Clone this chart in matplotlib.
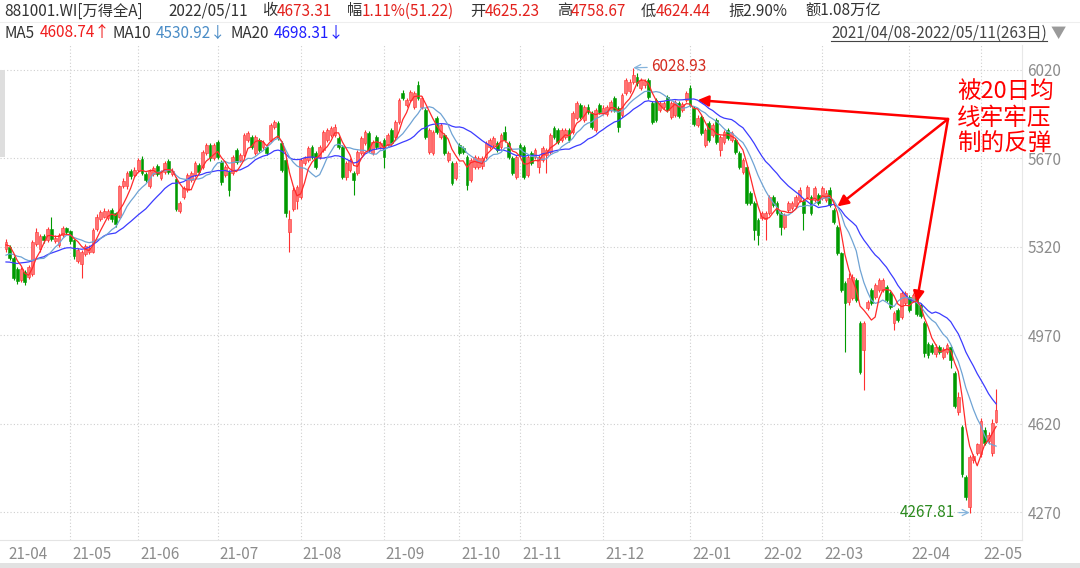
#!/usr/bin/env python3
"""Wind All A (881001.WI) daily candles with MA5/MA10/MA20, 2021/04/08-2022/05/11."""

import matplotlib

matplotlib.use("Agg")
import matplotlib.pyplot as plt
import numpy as np
import pandas as pd
from matplotlib.lines import Line2D
from matplotlib.patches import Rectangle
from matplotlib.transforms import IdentityTransform, ScaledTranslation

plt.rcParams["font.family"] = ["Noto Sans CJK SC", "DejaVu Sans"]

# ---- data --------------------------------------------------------------
code_name = "881001.WI[万得全A]"
first_date = "2021/04/08"
last_date = "2022/05/11"
turnover = "1.08万亿"

month_labels = ["21-04", "21-05", "21-06", "21-07", "21-08", "21-09", "21-10",
                "21-11", "21-12", "22-01", "22-02", "22-03", "22-04", "22-05"]
month_starts = [0, 17, 35, 56, 78, 100, 120, 136, 158, 181, 200, 216, 239, 258]

# closes before the first candle, only used to warm up the moving averages
pre_closes = [5290, 5260, 5230, 5180, 5150, 5200, 5240, 5250, 5260, 5270,
              5220, 5230, 5250, 5260, 5272, 5300, 5330, 5340, 5330]

opens = [
    # 21-04
    5310, 5318, 5276, 5232, 5190, 5222, 5200, 5212, 5330, 5312, 5362, 5346, 5392, 5344, 5326, 5366, 5394,
    # 21-05
    5382, 5346, 5264, 5250, 5290, 5300, 5300, 5390, 5432, 5440, 5436, 5466, 5452, 5440, 5562, 5560, 5620, 5604,
    # 21-06
    5626, 5666, 5610, 5560, 5610, 5640, 5592, 5616, 5660, 5610, 5590, 5462, 5517, 5545, 5584, 5604, 5644,
    5636, 5691, 5723, 5670,
    # 21-07
    5735, 5656, 5604, 5616, 5612, 5703, 5664, 5683, 5743, 5755, 5691, 5743, 5715, 5715, 5743, 5794, 5810,
    5731, 5664, 5380, 5470, 5500,
    # 21-08
    5517, 5652, 5664, 5715, 5691, 5675, 5703, 5743, 5763, 5763, 5751, 5715, 5596, 5624, 5612, 5612, 5691,
    5731, 5771, 5691, 5755, 5715,
    # 21-09
    5743, 5723, 5782, 5755, 5814, 5929, 5881, 5901, 5874, 5961, 5874, 5862, 5695, 5691, 5830, 5755, 5763,
    5664, 5652, 5592,
    # 21-10
    5723, 5711, 5675, 5584, 5636, 5636, 5640, 5675, 5715, 5723, 5731, 5715, 5775, 5731, 5671, 5596,
    # 21-11
    5723, 5715, 5604, 5691, 5675, 5636, 5664, 5683, 5695, 5790, 5782, 5743, 5755, 5782, 5775, 5830, 5881,
    5822, 5874, 5850, 5782, 5881,
    # 21-12
    5850, 5846, 5862, 5909, 5870, 5842, 5929, 5937, 5973, 5992, 5950, 5960, 5980, 5889, 5901, 5862, 5874,
    5913, 5834, 5842, 5889, 5862, 5901,
    # 22-01
    5949, 5870, 5802, 5834, 5723, 5810, 5763, 5822, 5703, 5735, 5782, 5743, 5743, 5691, 5616, 5636, 5533,
    5493, 5426,
    # 22-02
    5434, 5430, 5454, 5517, 5493, 5454, 5398, 5466, 5473, 5481, 5505, 5500, 5517, 5517, 5505, 5525,
    # 22-03
    5513, 5505, 5545, 5466, 5398, 5295, 5177, 5100, 5118, 5188, 5018, 4911, 5078, 5149, 5121, 5149, 5149,
    5161, 5137, 5018, 5070, 5042, 5098,
    # 22-04
    5121, 5109, 5121, 5090, 5018, 4935, 4930, 4895, 4925, 4884, 4905, 4925, 4820, 4665, 4607, 4408, 4290,
    4476, 4505,
    # 22-05
    4500, 4595, 4550, 4505, 4625.23,
]

closes = [
    5338, 5276, 5198, 5184, 5232, 5182, 5242, 5340, 5380, 5362, 5346, 5390, 5350, 5356, 5366, 5394, 5380,
    5342, 5282, 5306, 5300, 5322, 5316, 5386, 5440, 5456, 5462, 5460, 5430, 5410, 5560, 5580, 5612, 5600, 5626,
    5662, 5614, 5586, 5620, 5632, 5610, 5616, 5652, 5616, 5622, 5468, 5492, 5553, 5604, 5612, 5652, 5616,
    5695, 5723, 5670, 5723,
    5675, 5576, 5636, 5545, 5675, 5656, 5683, 5763, 5770, 5715, 5755, 5703, 5735, 5691, 5802, 5814, 5751,
    5624, 5454, 5430, 5545, 5557,
    5664, 5671, 5711, 5675, 5636, 5715, 5775, 5782, 5790, 5794, 5715, 5596, 5652, 5664, 5584, 5695, 5751,
    5775, 5703, 5735, 5715, 5731,
    5675, 5763, 5731, 5814, 5901, 5910, 5901, 5933, 5929, 5910, 5910, 5755, 5782, 5775, 5775, 5802, 5691,
    5691, 5573, 5652,
    5691, 5695, 5565, 5664, 5675, 5671, 5671, 5731, 5743, 5751, 5703, 5763, 5743, 5675, 5612, 5675,
    5683, 5596, 5675, 5652, 5703, 5675, 5711, 5703, 5763, 5755, 5735, 5782, 5782, 5743, 5850, 5889, 5834,
    5874, 5854, 5794, 5862, 5854,
    5870, 5874, 5893, 5862, 5794, 5921, 5980, 5973, 6000, 5968, 5980, 5975, 5913, 5814, 5822, 5889, 5889,
    5862, 5889, 5893, 5838, 5885, 5929,
    5881, 5805, 5830, 5771, 5782, 5743, 5802, 5735, 5755, 5775, 5751, 5771, 5695, 5636, 5664, 5493, 5493,
    5386, 5367,
    5454, 5454, 5517, 5485, 5454, 5398, 5446, 5493, 5493, 5517, 5545, 5454, 5557, 5454, 5553, 5493,
    5553, 5533, 5485, 5418, 5295, 5150, 5098, 5195, 5200, 5109, 4824, 5018, 5101, 5098, 5169, 5188, 5190,
    5109, 5082, 5058, 5030, 5137, 5137,
    5070, 5129, 5054, 5046, 4900, 4890, 4905, 4925, 4905, 4915, 4930, 4870, 4690, 4727, 4420, 4330, 4488,
    4490, 4537.5,
    4630, 4545, 4573.3, 4622.09, 4673.31,
]

highs = [
    5352, 5326, 5282, 5240, 5242, 5230, 5248, 5348, 5396, 5370, 5372, 5398, 5440, 5366, 5376, 5404, 5400,
    5388, 5352, 5314, 5306, 5330, 5326, 5394, 5450, 5466, 5474, 5470, 5474, 5458, 5566, 5592, 5620, 5628, 5634,
    5672, 5678, 5618, 5628, 5640, 5648, 5624, 5660, 5666, 5632, 5596, 5500, 5562, 5612, 5622, 5660, 5652,
    5702, 5732, 5730, 5730,
    5742, 5662, 5644, 5624, 5684, 5712, 5692, 5772, 5780, 5762, 5764, 5750, 5744, 5722, 5812, 5824, 5818,
    5738, 5670, 5466, 5556, 5566,
    5672, 5680, 5720, 5722, 5698, 5722, 5784, 5792, 5800, 5806, 5758, 5722, 5660, 5672, 5620, 5702, 5760,
    5784, 5780, 5744, 5762, 5740,
    5750, 5772, 5790, 5822, 5910, 5940, 5910, 5942, 5936, 5975, 5918, 5870, 5790, 5782, 5838, 5810, 5770,
    5700, 5660, 5660,
    5730, 5720, 5682, 5672, 5684, 5680, 5680, 5740, 5752, 5760, 5740, 5772, 5800, 5740, 5680, 5682,
    5732, 5722, 5684, 5700, 5710, 5684, 5720, 5712, 5772, 5798, 5790, 5790, 5790, 5790, 5858, 5898, 5890,
    5882, 5884, 5858, 5870, 5890,
    5880, 5882, 5902, 5918, 5878, 5930, 5990, 5984, 6028.93, 6010, 5990, 5986, 5990, 5896, 5908, 5898, 5898,
    5920, 5896, 5900, 5896, 5894, 5938,
    5960, 5878, 5840, 5842, 5790, 5818, 5810, 5830, 5762, 5784, 5790, 5780, 5750, 5698, 5672, 5644, 5540,
    5500, 5434,
    5462, 5462, 5526, 5524, 5500, 5460, 5454, 5500, 5500, 5526, 5556, 5508, 5566, 5524, 5562, 5532,
    5562, 5545, 5556, 5474, 5406, 5300, 5185, 5218, 5212, 5196, 5026, 5026, 5110, 5156, 5178, 5196, 5198,
    5168, 5144, 5066, 5078, 5146, 5146,
    5130, 5138, 5128, 5098, 5026, 4945, 4940, 4935, 4932, 4925, 4940, 4932, 4828, 4745, 4615, 4416, 4496,
    4500, 4545,
    4642, 4605, 4585, 4640, 4758.67,
]

lows = [
    5300, 5266, 5188, 5172, 5180, 5168, 5192, 5206, 5322, 5300, 5336, 5340, 5344, 5334, 5318, 5360, 5370,
    5332, 5272, 5256, 5198, 5282, 5292, 5294, 5384, 5424, 5434, 5428, 5420, 5400, 5434, 5552, 5550, 5590, 5596,
    5618, 5606, 5576, 5552, 5602, 5600, 5584, 5608, 5608, 5600, 5460, 5452, 5508, 5538, 5576, 5596, 5608,
    5628, 5684, 5660, 5662,
    5666, 5566, 5596, 5520, 5604, 5648, 5656, 5676, 5736, 5706, 5684, 5694, 5706, 5684, 5736, 5786, 5744,
    5616, 5440, 5300, 5462, 5470,
    5510, 5644, 5656, 5668, 5628, 5668, 5696, 5736, 5756, 5756, 5706, 5588, 5586, 5616, 5525, 5604, 5684,
    5724, 5696, 5684, 5708, 5708,
    5632, 5716, 5724, 5748, 5806, 5900, 5874, 5894, 5866, 5902, 5866, 5746, 5688, 5684, 5768, 5748, 5684,
    5656, 5564, 5584,
    5684, 5688, 5545, 5576, 5628, 5628, 5630, 5668, 5708, 5716, 5696, 5708, 5736, 5668, 5604, 5588,
    5676, 5588, 5596, 5644, 5668, 5612, 5656, 5612, 5688, 5748, 5728, 5736, 5748, 5736, 5768, 5822, 5826,
    5814, 5846, 5786, 5775, 5846,
    5842, 5838, 5854, 5854, 5775, 5834, 5920, 5930, 5965, 5958, 5942, 5950, 5905, 5806, 5814, 5854, 5866,
    5854, 5826, 5834, 5830, 5854, 5894,
    5874, 5798, 5794, 5764, 5716, 5736, 5756, 5728, 5680, 5728, 5744, 5736, 5688, 5628, 5608, 5486, 5486,
    5347, 5327,
    5426, 5347, 5446, 5478, 5446, 5367, 5390, 5458, 5466, 5474, 5498, 5386, 5510, 5446, 5498, 5486,
    5506, 5498, 5478, 5410, 5288, 5140, 4903, 5090, 5108, 5100, 4816, 4753, 5070, 5090, 5114, 5142, 5140,
    5102, 5074, 4990, 5022, 5034, 5090,
    5062, 5100, 5046, 5038, 4884, 4880, 4895, 4885, 4896, 4876, 4895, 4840, 4680, 4655, 4408, 4317, 4267.81,
    4466, 4496,
    4488, 4535, 4540, 4490, 4624.44,
]

y_ticks = [4270, 4620, 4970, 5320, 5670, 6020]
press_points = [183, 220, 241]  # candles where price ran into the MA20

assert len(opens) == len(closes) == len(highs) == len(lows) == 263

# ---- colours -------------------------------------------------------------
RED_FACE, RED_EDGE = "#ff7373", "#ff3030"
GREEN = "#009a00"
MA5_C, MA10_C, MA20_C = "#ff2a2a", "#6fa3d4", "#3c3cff"
DARK, VALUE_RED, GRID, TICK = "#333333", "#e3211c", "#cfcfcf", "#8c8c8c"

W, H = 1080, 568
fig = plt.figure(figsize=(W / 100, H / 100), dpi=100)
ax = fig.add_axes([0, 1 - 540 / H, 1022 / W, (540 - 45) / H])

o, c, h, l = (np.asarray(v, dtype=float) for v in (opens, closes, highs, lows))
x = np.arange(len(c))
up = c >= o

all_close = pd.Series(list(pre_closes) + list(closes), dtype=float)
n_pre = len(pre_closes)
ma = {n: all_close.rolling(n).mean().to_numpy()[n_pre:] for n in (5, 10, 20)}

# candles
body_lo = np.minimum(o, c)
body_h = np.maximum(np.abs(c - o), 3.0)
for mask, face, edge in ((up, RED_FACE, RED_EDGE), (~up, GREEN, GREEN)):
    ax.vlines(x[mask], l[mask], h[mask], color=edge, lw=0.8, zorder=2)
    ax.bar(x[mask], body_h[mask], bottom=body_lo[mask], width=0.74,
           color=face, edgecolor=edge, lw=0.4, zorder=3)

ax.plot(x, ma[20], color=MA20_C, lw=0.9, zorder=4)
ax.plot(x, ma[10], color=MA10_C, lw=0.9, zorder=4)
ax.plot(x, ma[5], color=MA5_C, lw=0.9, zorder=5)

# scales: candle 0 sits at pixel 6, step 3.779 px; 6020 at pixel 70, 3.959 points per px
ax.set_xlim((0 - 6) / 3.779, (1022 - 6) / 3.779)
ax.set_ylim(6020 - (540 - 70) * 3.959, 6020 + (70 - 45) * 3.959)

ax.set_yticks(y_ticks)
ax.yaxis.tick_right()
ax.tick_params(axis="y", length=0, pad=4, labelsize=11, labelcolor=TICK)
ax.set_xticks(month_starts, month_labels)
ax.tick_params(axis="x", length=0, pad=4, labelsize=11, labelcolor=TICK)
shift = ScaledTranslation(2 / 100, 0, fig.dpi_scale_trans)
for lbl in ax.get_xticklabels():
    lbl.set_horizontalalignment("left")
    lbl.set_transform(lbl.get_transform() + shift)

for yv in y_ticks:
    ax.axhline(yv, color=GRID, lw=0.8, ls=(0, (1, 2)), zorder=0)
for xv in month_starts[1:]:
    ax.axvline(xv, color=GRID, lw=0.8, ls=(0, (1, 2)), zorder=0)

for side in ("top", "left"):
    ax.spines[side].set_visible(False)
ax.spines["right"].set_color("#e8e8e8")
ax.spines["bottom"].set_color("#e4e4e4")

# extreme labels
imax, imin = int(np.argmax(h)), int(np.argmin(l))
ax.annotate(f"{h[imax]:.2f}", xy=(imax, h[imax]), xytext=(18, 1), textcoords="offset pixels",
            color="#d42a1e", fontsize=11, va="center", ha="left",
            arrowprops=dict(arrowstyle="->", color="#86b4dc", lw=0.9, shrinkA=1, shrinkB=0))
ax.annotate(f"{l[imin]:.2f}", xy=(imin, l[imin]), xytext=(-15, 0), textcoords="offset pixels",
            color="#2b8a1e", fontsize=11, va="center", ha="right",
            arrowprops=dict(arrowstyle="->", color="#86b4dc", lw=0.9, shrinkA=1, shrinkB=0))

# red comment and arrows
fig.text(957 / W, 1 - 80 / H, "被20日均\n线牢牢压\n制的反弹", color="#ff0000", fontsize=17,
         va="top", ha="left", linespacing=1.2)
for i in press_points:
    ax.annotate("", xy=(i, ma[20][i]), xycoords="data", xytext=(948, H - 119),
                textcoords="figure pixels",
                arrowprops=dict(arrowstyle="-|>", color="#ff0000", lw=1.8,
                                mutation_scale=16, shrinkA=0, shrinkB=0))


# ---- header --------------------------------------------------------------
def head(px, py, s, color=DARK, **kw):
    return fig.text(px / W, 1 - py / H, s, color=color, fontsize=11, va="center", **kw)


chg = c[-1] - c[-2]
amp = (h[-1] - l[-1]) / c[-2] * 100
row1 = [
    (4, code_name, DARK), (168, last_date, DARK),
    (262, "收", DARK), (277, f"{c[-1]:.2f}", VALUE_RED),
    (347, "幅", DARK), (362, f"{chg / c[-2] * 100:.2f}%({chg:.2f})", VALUE_RED),
    (470, "开", DARK), (485, f"{o[-1]:.2f}", VALUE_RED),
    (557, "高", DARK), (571, f"{h[-1]:.2f}", VALUE_RED),
    (641, "低", DARK), (656, f"{l[-1]:.2f}", VALUE_RED),
    (728, f"振{amp:.2f}%", DARK), (805, f"额{turnover}", DARK),
]
for px, s, col in row1:
    head(px, 11, s, col)


def arrow(series):
    return "↑" if series[-1] >= series[-2] else "↓"


row2 = [
    (4, "MA5", DARK), (40, f"{ma[5][-1]:.2f}{arrow(ma[5])}", "#f01e1e"),
    (112, "MA10", DARK), (156, f"{ma[10][-1]:.2f}{arrow(ma[10])}", "#4a8cc6"),
    (230, "MA20", DARK), (274, f"{ma[20][-1]:.2f}{arrow(ma[20])}", "#1f1fff"),
]
for px, s, col in row2:
    head(px, 33, s, col)

rng = head(1047, 33, f"{first_date}-{last_date}({len(c)}日)", "#444444", ha="right")
head(1051, 33, "▼", "#9a9a9a", ha="left")
fig.canvas.draw()
bb = rng.get_window_extent()
fig.add_artist(Line2D([bb.x0, bb.x1], [bb.y0 + 1, bb.y0 + 1], transform=IdentityTransform(),
                      color="#444444", lw=0.8))

fig.add_artist(Line2D([0, W], [H - 22, H - 22], transform=IdentityTransform(), color="#eeeeee", lw=0.8))
fig.add_artist(Rectangle((0, H - 157), 5, 87, transform=IdentityTransform(), color="#dedede", lw=0))
fig.add_artist(Rectangle((0, 0), W, 5, transform=IdentityTransform(), color="#e2e2e2", lw=0))

fig.savefig("out.png", dpi=100)
plt.close(fig)
